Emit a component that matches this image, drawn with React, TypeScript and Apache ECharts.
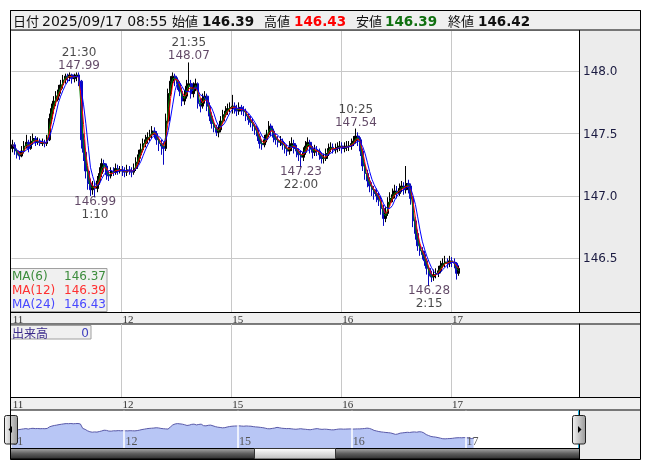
import React, { useEffect, useRef } from "react";
import * as echarts from "echarts";

// 30-minute candles [open, close, low, high] (trading day starts 07:00)
const DAY_LABELS = ["11", "12", "15", "16", "17"];
const SLOTS_PER_DAY = 48;
const MAIN_SLOTS = 248;
const NAV_SLOTS = 240;

const day11 = [
  [147.38, 147.41, 147.35, 147.45], [147.41, 147.36, 147.33, 147.43], [147.36, 147.33, 147.30, 147.38], [147.33, 147.32, 147.29, 147.36],
  [147.32, 147.36, 147.31, 147.40], [147.36, 147.40, 147.34, 147.44], [147.40, 147.43, 147.38, 147.49], [147.43, 147.38, 147.35, 147.45],
  [147.38, 147.44, 147.37, 147.48], [147.44, 147.46, 147.41, 147.50], [147.46, 147.43, 147.40, 147.48], [147.43, 147.44, 147.41, 147.47],
  [147.44, 147.42, 147.40, 147.46], [147.42, 147.43, 147.40, 147.46], [147.43, 147.42, 147.39, 147.45], [147.42, 147.45, 147.40, 147.49],
  [147.45, 147.62, 147.44, 147.66], [147.62, 147.70, 147.58, 147.74], [147.70, 147.76, 147.66, 147.80], [147.76, 147.80, 147.72, 147.84],
  [147.80, 147.85, 147.77, 147.89], [147.85, 147.89, 147.82, 147.93], [147.89, 147.93, 147.86, 147.97], [147.93, 147.96, 147.90, 147.98],
  [147.96, 147.95, 147.91, 147.98], [147.95, 147.97, 147.92, 147.99], [147.97, 147.94, 147.90, 147.98], [147.94, 147.96, 147.91, 147.98],
  [147.96, 147.97, 147.92, 147.99], [147.97, 147.92, 147.88, 147.99], [147.92, 147.45, 147.38, 147.93], [147.45, 147.35, 147.28, 147.50],
  [147.35, 147.20, 147.14, 147.38], [147.20, 147.10, 147.05, 147.24], [147.10, 147.05, 147.00, 147.14], [147.05, 147.08, 147.01, 147.12],
  [147.08, 147.06, 146.99, 147.11], [147.06, 147.12, 147.03, 147.16], [147.12, 147.18, 147.09, 147.23], [147.18, 147.26, 147.15, 147.30],
  [147.26, 147.24, 147.19, 147.29], [147.24, 147.17, 147.13, 147.26], [147.17, 147.16, 147.12, 147.20], [147.16, 147.20, 147.14, 147.23],
  [147.20, 147.19, 147.16, 147.23], [147.19, 147.22, 147.17, 147.26], [147.22, 147.20, 147.17, 147.25], [147.20, 147.21, 147.18, 147.24],
];
const day12 = [
  [147.21, 147.20, 147.16, 147.24], [147.20, 147.19, 147.15, 147.23], [147.19, 147.21, 147.16, 147.25], [147.21, 147.20, 147.17, 147.24],
  [147.20, 147.19, 147.15, 147.23], [147.19, 147.22, 147.17, 147.26], [147.22, 147.27, 147.20, 147.31], [147.27, 147.33, 147.25, 147.37],
  [147.33, 147.37, 147.30, 147.42], [147.37, 147.42, 147.35, 147.46], [147.42, 147.45, 147.39, 147.49], [147.45, 147.47, 147.42, 147.51],
  [147.47, 147.49, 147.44, 147.53], [147.49, 147.52, 147.46, 147.56], [147.52, 147.50, 147.46, 147.55], [147.50, 147.45, 147.41, 147.52],
  [147.45, 147.42, 147.36, 147.47], [147.42, 147.40, 147.33, 147.45], [147.40, 147.38, 147.25, 147.43], [147.38, 147.60, 147.36, 147.66],
  [147.60, 147.82, 147.58, 147.86], [147.82, 147.92, 147.80, 147.96], [147.92, 147.96, 147.89, 147.99], [147.96, 147.93, 147.88, 147.98],
  [147.93, 147.90, 147.85, 147.95], [147.90, 147.84, 147.80, 147.92], [147.84, 147.76, 147.72, 147.87], [147.76, 147.80, 147.73, 147.85],
  [147.80, 147.88, 147.78, 147.93], [147.88, 147.90, 147.84, 148.07], [147.90, 147.82, 147.78, 147.93], [147.82, 147.87, 147.79, 147.91],
  [147.87, 147.90, 147.84, 147.94], [147.90, 147.74, 147.70, 147.91], [147.74, 147.72, 147.67, 147.78], [147.72, 147.78, 147.70, 147.82],
  [147.78, 147.80, 147.74, 147.84], [147.80, 147.72, 147.68, 147.82], [147.72, 147.64, 147.60, 147.75], [147.64, 147.58, 147.54, 147.67],
  [147.58, 147.55, 147.51, 147.61], [147.55, 147.51, 147.48, 147.57], [147.51, 147.53, 147.47, 147.57], [147.53, 147.60, 147.51, 147.64],
  [147.60, 147.65, 147.58, 147.69], [147.65, 147.68, 147.63, 147.72], [147.68, 147.70, 147.65, 147.74], [147.70, 147.71, 147.67, 147.75],
];
const day15 = [
  [147.70, 147.72, 147.66, 147.81], [147.72, 147.70, 147.66, 147.75], [147.70, 147.68, 147.64, 147.73], [147.68, 147.71, 147.65, 147.75],
  [147.71, 147.69, 147.65, 147.73], [147.69, 147.68, 147.64, 147.72], [147.68, 147.64, 147.60, 147.70], [147.64, 147.61, 147.57, 147.66],
  [147.61, 147.59, 147.55, 147.64], [147.59, 147.56, 147.52, 147.62], [147.56, 147.53, 147.49, 147.58], [147.53, 147.48, 147.44, 147.55],
  [147.48, 147.42, 147.38, 147.50], [147.42, 147.41, 147.37, 147.45], [147.41, 147.45, 147.39, 147.49], [147.45, 147.49, 147.43, 147.53],
  [147.49, 147.56, 147.47, 147.60], [147.56, 147.52, 147.48, 147.58], [147.52, 147.47, 147.43, 147.54], [147.47, 147.45, 147.41, 147.50],
  [147.45, 147.43, 147.39, 147.48], [147.43, 147.44, 147.40, 147.48], [147.44, 147.41, 147.37, 147.46], [147.41, 147.38, 147.34, 147.43],
  [147.38, 147.36, 147.32, 147.41], [147.36, 147.39, 147.33, 147.44], [147.39, 147.42, 147.36, 147.47], [147.42, 147.38, 147.34, 147.45],
  [147.38, 147.36, 147.31, 147.41], [147.36, 147.33, 147.28, 147.38], [147.33, 147.31, 147.23, 147.36], [147.31, 147.35, 147.28, 147.39],
  [147.35, 147.40, 147.33, 147.44], [147.40, 147.43, 147.37, 147.47], [147.43, 147.38, 147.34, 147.45], [147.38, 147.35, 147.30, 147.40],
  [147.35, 147.37, 147.32, 147.41], [147.37, 147.36, 147.32, 147.40], [147.36, 147.33, 147.29, 147.38], [147.33, 147.30, 147.26, 147.35],
  [147.30, 147.30, 147.26, 147.34], [147.30, 147.34, 147.28, 147.38], [147.34, 147.38, 147.32, 147.42], [147.38, 147.39, 147.35, 147.43],
  [147.39, 147.37, 147.34, 147.42], [147.37, 147.38, 147.34, 147.42], [147.38, 147.39, 147.35, 147.43], [147.39, 147.40, 147.36, 147.44],
];
const day16 = [
  [147.40, 147.38, 147.34, 147.43], [147.38, 147.39, 147.35, 147.43], [147.39, 147.40, 147.36, 147.44], [147.40, 147.40, 147.36, 147.44],
  [147.40, 147.42, 147.37, 147.46], [147.42, 147.44, 147.40, 147.48], [147.44, 147.48, 147.42, 147.54], [147.48, 147.45, 147.40, 147.51],
  [147.45, 147.36, 147.32, 147.47], [147.36, 147.24, 147.20, 147.38], [147.24, 147.18, 147.13, 147.27], [147.18, 147.12, 147.07, 147.21],
  [147.12, 147.08, 147.03, 147.15], [147.08, 147.05, 147.00, 147.11], [147.05, 147.02, 146.97, 147.08], [147.02, 147.00, 146.95, 147.06],
  [147.00, 146.97, 146.92, 147.03], [146.97, 146.90, 146.85, 147.00], [146.90, 146.82, 146.76, 146.93], [146.82, 146.86, 146.79, 146.91],
  [146.86, 146.95, 146.84, 146.99], [146.95, 146.98, 146.92, 147.03], [146.98, 147.01, 146.95, 147.06], [147.01, 147.04, 146.98, 147.09],
  [147.04, 147.02, 146.98, 147.08], [147.02, 147.06, 147.00, 147.10], [147.06, 147.08, 147.03, 147.12], [147.08, 147.05, 147.01, 147.11],
  [147.05, 147.10, 147.02, 147.24], [147.10, 147.08, 147.02, 147.13], [147.08, 146.98, 146.93, 147.10], [146.98, 146.80, 146.75, 147.00],
  [146.80, 146.70, 146.65, 146.83], [146.70, 146.60, 146.56, 146.73], [146.60, 146.56, 146.52, 146.63], [146.56, 146.53, 146.49, 146.59],
  [146.53, 146.48, 146.44, 146.56], [146.48, 146.42, 146.37, 146.50], [146.42, 146.36, 146.28, 146.44], [146.36, 146.35, 146.31, 146.40],
  [146.35, 146.37, 146.32, 146.41], [146.37, 146.38, 146.34, 146.42], [146.38, 146.40, 146.35, 146.44], [146.40, 146.44, 146.38, 146.48],
  [146.44, 146.46, 146.42, 146.50], [146.46, 146.47, 146.43, 146.52], [146.47, 146.46, 146.42, 146.50], [146.46, 146.48, 146.43, 146.52],
];
const day17 = [
  [146.48, 146.47, 146.43, 146.51], [146.47, 146.46, 146.42, 146.50], [146.46, 146.38, 146.33, 146.47], [146.38, 146.42, 146.36, 146.44],
];

// Moving averages (reference uses 5-min bars; windows scaled to the 30-min bars here)
const MA_NAMES = ["MA(6)", "MA(12)", "MA(24)"];
const MA_LAST = ["146.37", "146.39", "146.43"];
const MA_WINDOWS = [2, 3, 5];
const MA_LINE_COLORS = ["#008000", "#ff0000", "#0000ff"];
const MA_TEXT_COLORS = ["#3c8c3c", "#ff3030", "#4848ff"];

// High / low annotations
const ANN_DAYS = ["11", "11", "12", "15", "16", "16"];
const ANN_TIMES = ["21:30", "1:10", "21:35", "22:00", "10:25", "2:15"];
const ANN_PRICES = [147.99, 146.99, 148.07, 147.23, 147.54, 146.28];
const ANN_ABOVE = [true, false, true, false, true, false];

const HEADER_DATE = "2025/09/17 08:55";
const HEADER_VALUES = ["146.39", "146.43", "146.39", "146.42"];
const HEADER_NAMES = ["始値", "高値", "安値", "終値"];
const VOLUME_LAST = "0";

const CANDLES = [...day11, ...day12, ...day15, ...day16, ...day17];
const CLOSES = CANDLES.map((c) => c[1]);

function movingAverage(values: number[], w: number) {
  return values.map((_, i) => {
    const s = Math.max(0, i - w + 1);
    const part = values.slice(s, i + 1);
    return +(part.reduce((a, b) => a + b, 0) / part.length).toFixed(3);
  });
}

function slotIndex(day: string, time: string) {
  const d = DAY_LABELS.indexOf(day);
  const [h, m] = time.split(":").map(Number);
  const hh = (h - 7 + 24) % 24;
  return d * SLOTS_PER_DAY + hh * 2 + Math.floor(m / 30);
}

const mainCats = Array.from({ length: MAIN_SLOTS }, (_, i) => String(i));
const navCats = Array.from({ length: NAV_SLOTS }, (_, i) => String(i));
const isDayStart = (i: number) => i % SLOTS_PER_DAY === 0 && i / SLOTS_PER_DAY < DAY_LABELS.length;
const dayLabel = (v: string) => {
  const i = Number(v);
  return isDayStart(i) ? DAY_LABELS[i / SLOTS_PER_DAY] : "";
};

const SANS = "DejaVu Sans";
const JP = "Noto Sans CJK JP";
const SERIF = "Liberation Serif";

function catAxis(gridIndex: number, cats: string[], extra: any) {
  return {
    type: "category",
    gridIndex,
    data: cats,
    boundaryGap: true,
    axisLine: { show: true, lineStyle: { color: "#000", width: 1 } },
    axisTick: { show: false },
    axisLabel: {
      interval: (i: number) => isDayStart(i),
      formatter: dayLabel,
      align: "left",
      margin: 1,
      fontSize: 11,
      fontFamily: SERIF,
      color: "#333",
    },
    splitLine: {
      show: true,
      interval: (i: number) => i > 0 && isDayStart(i),
      lineStyle: { color: "#c8c8c8", width: 1 },
    },
    ...extra,
  };
}

export default function App() {
  const ref = useRef<HTMLDivElement>(null);
  useEffect(() => {
    if (!ref.current) return;
    const chart = echarts.init(ref.current, undefined, { renderer: "svg" });

    const grad = (x2: number, y2: number, stops: [number, string][]) =>
      new echarts.graphic.LinearGradient(0, 0, x2, y2, stops.map(([offset, color]) => ({ offset, color })));

    const graphics: any[] = [
      // backgrounds
      { type: "rect", z: -1, shape: { x: 579, y: 30, width: 61, height: 429 }, style: { fill: "#ececec" } },
      { type: "rect", z: -1, shape: { x: 10.5, y: 312.5, width: 630, height: 11.5 }, style: { fill: "#efefef", stroke: "#000", lineWidth: 1 } },
      { type: "rect", z: -1, shape: { x: 10.5, y: 397.5, width: 630, height: 12.5 }, style: { fill: "#efefef", stroke: "#000", lineWidth: 1 } },
      // header
      { type: "rect", z: 20, shape: { x: 10.5, y: 10.5, width: 630, height: 19.5 }, style: { fill: "#efefef", stroke: "#000", lineWidth: 1 } },
      { type: "text", z: 21, x: 13, y: 20.5, style: { text: "日付", fill: "#111", font: `13px "${JP}"`, verticalAlign: "middle" } },
      { type: "text", z: 21, x: 42, y: 20.5, style: { text: HEADER_DATE, fill: "#111", font: `14px "${SANS}"`, verticalAlign: "middle" } },
      ...HEADER_NAMES.flatMap((name, k) => {
        const nx = [172, 264, 356, 448][k];
        const vx = [202, 294, 385, 478][k];
        const col = ["#111", "#ff0000", "#107010", "#111"][k];
        return [
          { type: "text", z: 21, x: nx, y: 20.5, style: { text: name, fill: "#111", font: `13px "${JP}"`, verticalAlign: "middle" } },
          { type: "text", z: 21, x: vx, y: 20.5, style: { text: HEADER_VALUES[k], fill: col, font: `bold 13.5px "${SANS}"`, verticalAlign: "middle" } },
        ];
      }),
      // MA legend box
      { type: "rect", z: 10, shape: { x: 10.5, y: 268.5, width: 96.5, height: 43 }, style: { fill: "#f0f0f0", stroke: "#a0a0a0", lineWidth: 1 } },
      ...MA_NAMES.flatMap((name, k) => [
        { type: "text", z: 11, x: 12, y: 275.5 + k * 14, style: { text: name, fill: MA_TEXT_COLORS[k], font: `12px "${SANS}"`, verticalAlign: "middle" } },
        { type: "text", z: 11, x: 106, y: 275.5 + k * 14, style: { text: MA_LAST[k], fill: MA_TEXT_COLORS[k], font: `12px "${SANS}"`, align: "right", verticalAlign: "middle" } },
      ]),
      // volume label box
      { type: "rect", z: 10, shape: { x: 10.5, y: 325.5, width: 80.5, height: 13.5 }, style: { fill: "#f0f0f0", stroke: "#a0a0a0", lineWidth: 1 } },
      { type: "text", z: 11, x: 12, y: 332.5, style: { text: "出来高", fill: "#3a2a8a", font: `12px "${JP}"`, verticalAlign: "middle" } },
      { type: "text", z: 11, x: 89, y: 332.5, style: { text: VOLUME_LAST, fill: "#4040c0", font: `12px "${SANS}"`, align: "right", verticalAlign: "middle" } },
      // navigator frame pieces
      { type: "line", z: 12, shape: { x1: 10.5, y1: 410, x2: 10.5, y2: 448 }, style: { stroke: "#20b0e0", lineWidth: 1 } },
      { type: "line", z: 12, shape: { x1: 578.5, y1: 410, x2: 578.5, y2: 448 }, style: { stroke: "#20b0e0", lineWidth: 1 } },
      { type: "line", z: 12, shape: { x1: 579.5, y1: 410, x2: 579.5, y2: 459 }, style: { stroke: "#000", lineWidth: 1 } },
      // scrollbar
      { type: "rect", z: 12, shape: { x: 10.5, y: 448.5, width: 569, height: 10.5 }, style: { fill: grad(0, 1, [[0, "#a8a8a8"], [0.5, "#5c5c5c"], [1, "#2e2e2e"]]), stroke: "#000", lineWidth: 1 } },
      { type: "rect", z: 13, shape: { x: 254.5, y: 448.5, width: 81, height: 10.5 }, style: { fill: grad(0, 1, [[0, "#ffffff"], [1, "#bdbdbd"]]), stroke: "#333", lineWidth: 1 } },
      // handles
      { type: "rect", z: 14, shape: { x: 4.5, y: 415.5, width: 13, height: 28.5, r: 2 }, style: { fill: grad(1, 0, [[0, "#f4f4f4"], [1, "#9a9a9a"]]), stroke: "#222", lineWidth: 1 } },
      { type: "polygon", z: 15, shape: { points: [[8.5, 429.5], [12, 426], [12, 433]] }, style: { fill: "#000" } },
      { type: "rect", z: 14, shape: { x: 572.5, y: 415.5, width: 13, height: 28.5, r: 2 }, style: { fill: grad(1, 0, [[0, "#f4f4f4"], [1, "#9a9a9a"]]), stroke: "#222", lineWidth: 1 } },
      { type: "polygon", z: 15, shape: { points: [[581.5, 429.5], [578, 426], [578, 433]] }, style: { fill: "#000" } },
      // outer frame
      { type: "rect", z: 30, shape: { x: 10.5, y: 10.5, width: 630, height: 449 }, style: { fill: "none", stroke: "#000", lineWidth: 1 } },
    ];

    const annData = ANN_TIMES.map((t, k) => {
      const above = ANN_ABOVE[k];
      const p = ANN_PRICES[k].toFixed(2);
      return {
        value: [slotIndex(ANN_DAYS[k], t), ANN_PRICES[k]],
        label: {
          show: true,
          position: above ? "top" : "bottom",
          distance: above ? 0 : -3,
          formatter: above ? `{t|${t}}\n{p|${p}}` : `{p|${p}}\n{t|${t}}`,
        },
      };
    });

    const option: any = {
      animation: false,
      graphic: graphics,
      grid: [
        { left: 11.5, top: 30, width: 567.5, height: 282 },
        { left: 11.5, top: 324, width: 567.5, height: 73 },
        { left: 10.5, top: 410.7, width: 568.5, height: 37.6 },
      ],
      xAxis: [
        catAxis(0, mainCats, {}),
        catAxis(1, mainCats, {}),
        catAxis(2, navCats, {
          z: 5,
          axisLine: { show: false },
          axisLabel: {
            interval: (i: number) => isDayStart(i),
            formatter: dayLabel,
            inside: true,
            align: "left",
            margin: 1,
            fontSize: 12,
            fontFamily: SERIF,
            color: "#555",
          },
          splitLine: {
            show: true,
            interval: (i: number) => i > 0 && isDayStart(i),
            lineStyle: { color: "#ffffff", width: 1.5 },
          },
        }),
      ],
      yAxis: [
        {
          type: "value",
          gridIndex: 0,
          position: "right",
          min: 146.07,
          max: 148.33,
          minInterval: 0.5,
          maxInterval: 0.5,
          axisLine: { show: true, lineStyle: { color: "#000" } },
          axisTick: { show: false },
          axisLabel: {
            margin: 4,
            fontSize: 12,
            fontFamily: SANS,
            color: "#1a1a40",
            showMinLabel: false,
            showMaxLabel: false,
            formatter: (v: number) => v.toFixed(1),
          },
          splitLine: { show: true, lineStyle: { color: "#c8c8c8" } },
        },
        {
          type: "value",
          gridIndex: 1,
          position: "right",
          axisLine: { show: true, onZero: false, lineStyle: { color: "#000" } },
          axisTick: { show: false },
          axisLabel: { show: false },
          splitLine: { show: false },
        },
        { type: "value", gridIndex: 2, min: 145.35, max: 149.32, show: false },
      ],
      series: [
        {
          type: "candlestick",
          xAxisIndex: 0,
          yAxisIndex: 0,
          data: CANDLES,
          barWidth: 2.3,
          itemStyle: { color: "#000000", color0: "#0808c0", borderColor: "#000000", borderColor0: "#0808c0", borderWidth: 1 },
          z: 2,
        },
        ...MA_WINDOWS.map((w, k) => ({
          type: "line",
          name: MA_NAMES[k],
          xAxisIndex: 0,
          yAxisIndex: 0,
          data: movingAverage(CLOSES, w),
          showSymbol: false,
          symbol: "none",
          lineStyle: { color: MA_LINE_COLORS[k], width: 1 },
          z: 3 + k,
        })),
        {
          type: "scatter",
          xAxisIndex: 0,
          yAxisIndex: 0,
          symbolSize: 1,
          itemStyle: { color: "rgba(0,0,0,0)" },
          data: annData,
          z: 8,
          label: {
            rich: {
              t: { color: "#1a1a1a", fontSize: 12, fontFamily: SANS, lineHeight: 13 },
              p: { color: "#3a1a40", fontSize: 12, fontFamily: SANS, lineHeight: 13 },
            },
          },
        },
        {
          type: "line",
          xAxisIndex: 2,
          yAxisIndex: 2,
          data: CLOSES,
          showSymbol: false,
          symbol: "none",
          lineStyle: { color: "#5a5aa8", width: 1 },
          areaStyle: { color: "#b8c6f5", opacity: 1, origin: "start" },
          z: 2,
        },
      ],
    };
    chart.setOption(option);
    return () => chart.dispose();
  }, []);
  return <div ref={ref} style={{ position: "fixed", left: 0, top: 0, width: 653, height: 470 }} />;
}
